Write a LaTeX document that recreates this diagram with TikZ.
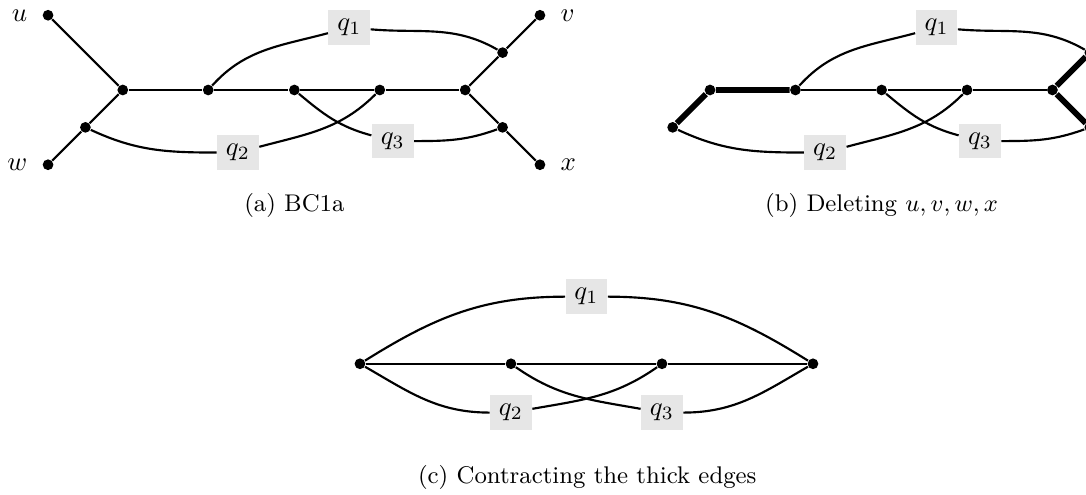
\documentclass[tikz,border=0pt]{standalone}
\usepackage{amsmath, amssymb}
\usepackage{xcolor}
\usepackage{tikz}
\usetikzlibrary{positioning}
\definecolor{labelgray}{RGB}{230, 230, 230}

\begin{document}
\begin{tikzpicture}[
    vtx/.style={circle, fill=black, inner sep=0pt, minimum size=4pt},
    qlabel/.style={rectangle, fill=labelgray, inner sep=3.3pt},
    edge/.style={thick},
    heavy/.style={line width=2.2pt},
    caption/.style={font=\small}
]
    \useasboundingbox (0, 0) rectangle (14.24, 6.49);

    % (a) BC1a
    \node[vtx] (u) at (0.63, 6.29) {};
    \node[vtx] (w) at (0.63, 4.33) {};
    \node[vtx] (v) at (7.08, 6.29) {};
    \node[vtx] (x) at (7.08, 4.33) {};
    \node[vtx] (a1) at (1.61, 5.31) {};
    \node[vtx] (a2) at (2.73, 5.31) {};
    \node[vtx] (a3) at (3.86, 5.31) {};
    \node[vtx] (a4) at (4.98, 5.31) {};
    \node[vtx] (a5) at (6.10, 5.31) {};
    \node[vtx] (aw) at (1.12, 4.82) {};
    \node[vtx] (av) at (6.59, 5.80) {};
    \node[vtx] (ax) at (6.59, 4.82) {};
    \node[left=2pt of u] (ulab) {$u$};
    \node[left=2pt of w] (wlab) {$w$};
    \node[right=2pt of v] (vlab) {$v$};
    \node[right=2pt of x] (xlab) {$x$};
    \node[qlabel] (aq1) at (4.58, 6.13) {$q_1$};
    \node[qlabel] (aq2) at (3.12, 4.49) {$q_2$};
    \node[qlabel] (aq3) at (5.15, 4.64) {$q_3$};

    \draw[edge] (u) -- (a1) -- (aw) -- (w);
    \draw[edge] (v) -- (av) -- (a5) -- (ax) -- (x);
    \draw[edge] (a1) -- (a2) -- (a3) -- (a4) -- (a5);
    \draw[edge] (a2) to[out=48, in=195] (aq1) to[out=-5, in=150] (av);
    \draw[edge] (aw) to[out=-25, in=180] (aq2) to[out=15, in=225] (a4);
    \draw[edge] (a3) to[out=-40, in=165] (aq3) to[out=0, in=200] (ax);

    \node[caption] (capa) at (3.86, 3.79) {(a) BC1a};

    % (b) Deleting u, v, w, x
    \node[vtx] (b1) at (9.31, 5.31) {};
    \node[vtx] (b2) at (10.43, 5.31) {};
    \node[vtx] (b3) at (11.56, 5.31) {};
    \node[vtx] (b4) at (12.68, 5.31) {};
    \node[vtx] (b5) at (13.80, 5.31) {};
    \node[vtx] (bw) at (8.82, 4.82) {};
    \node[vtx] (bv) at (14.29, 5.80) {};
    \node[vtx] (bx) at (14.29, 4.82) {};
    \node[qlabel] (bq1) at (12.28, 6.13) {$q_1$};
    \node[qlabel] (bq2) at (10.82, 4.49) {$q_2$};
    \node[qlabel] (bq3) at (12.85, 4.64) {$q_3$};

    \draw[heavy] (bw) -- (b1) -- (b2);
    \draw[heavy] (bv) -- (b5) -- (bx);
    \draw[edge] (b2) -- (b3) -- (b4) -- (b5);
    \draw[edge] (b2) to[out=48, in=195] (bq1) to[out=-5, in=150] (bv);
    \draw[edge] (bw) to[out=-25, in=180] (bq2) to[out=15, in=225] (b4);
    \draw[edge] (b3) to[out=-40, in=165] (bq3) to[out=0, in=200] (bx);

    \node[caption] (capb) at (11.56, 3.79) {(b) Deleting $u, v, w, x$};

    % (c) Contracting the thick edges
    \node[vtx] (c1) at (4.72, 1.72) {};
    \node[vtx] (c2) at (6.70, 1.72) {};
    \node[vtx] (c3) at (8.68, 1.72) {};
    \node[vtx] (c4) at (10.66, 1.72) {};
    \node[qlabel] (cq1) at (7.69, 2.60) {$q_1$};
    \node[qlabel] (cq2) at (6.70, 1.08) {$q_2$};
    \node[qlabel] (cq3) at (8.68, 1.08) {$q_3$};

    \draw[edge] (c1) -- (c2) -- (c3) -- (c4);
    \draw[edge] (c1) to[out=32, in=180] (cq1) to[out=0, in=148] (c4);
    \draw[edge] (c1) to[out=-30, in=180] (cq2) to[out=10, in=215] (c3);
    \draw[edge] (c2) to[out=-35, in=170] (cq3) to[out=0, in=210] (c4);

    \node[caption] (capc) at (7.70, 0.23) {(c) Contracting the thick edges};

\end{tikzpicture}
\end{document}
